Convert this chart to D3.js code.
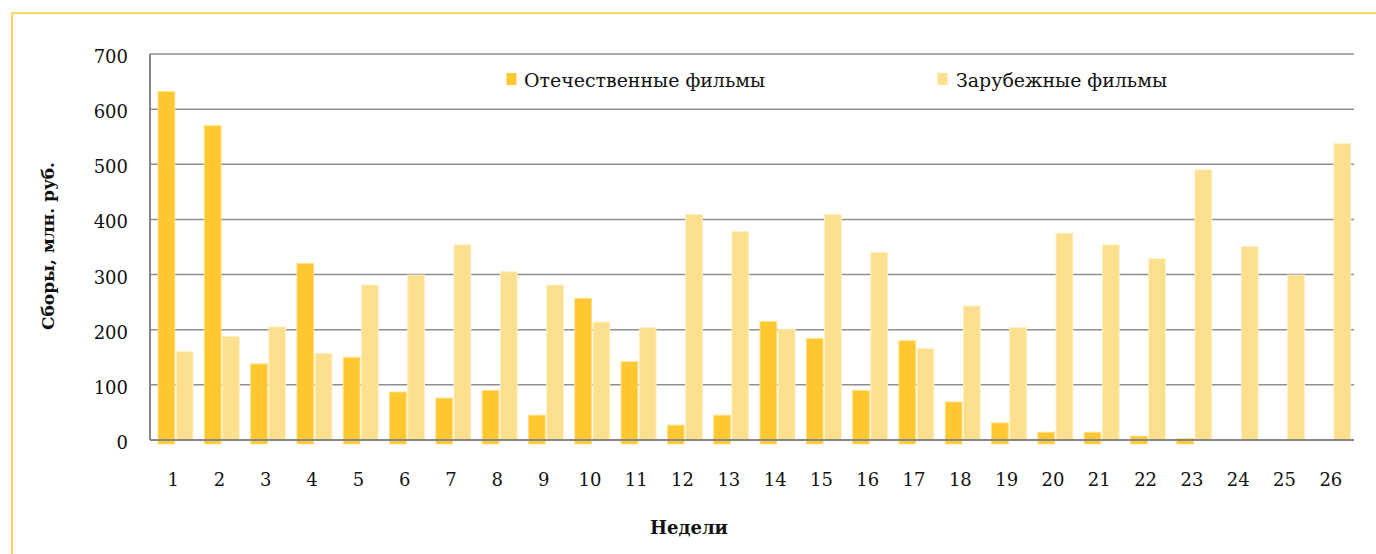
<!DOCTYPE html>
<html>
<head>
<meta charset="utf-8">
<script src="https://cdn.jsdelivr.net/npm/d3@7/dist/d3.min.js"></script>
<style>
  html, body { margin: 0; padding: 0; background: #fff; }
  svg { display: block; }
</style>
</head>
<body>
<svg id="chart" width="1376" height="554"></svg>
<script>
// ---- data ----
const weeks = ["1","2","3","4","5","6","7","8","9","10","11","12","13","14","15","16","17","18","19","20","21","22","23","24","25","26"];
const seriesNames = ["Отечественные фильмы", "Зарубежные фильмы"];
const domestic = [632, 570, 138, 320, 150, 87, 76, 90, 45, 257, 142, 27, 45, 215, 184, 90, 180, 69, 31, 14, 14, 7, 3, null, null, null];
const foreign  = [160, 188, 205, 157, 281, 299, 354, 305, 281, 214, 204, 409, 378, 201, 409, 340, 166, 243, 204, 375, 354, 329, 490, 351, 299, 538];
const yTicks = [0, 100, 200, 300, 400, 500, 600, 700];
const yTitle = "Сборы, млн. руб.";
const xTitle = "Недели";

// ---- layout ----
const svg = d3.select("#chart");
const plotL = 150, plotR = 1354, plotT = 54, plotB = 440;
const fills = ["#FFC830", "#FDE08D"];
const strokes = ["#FFE18A", "#FFF0C4"];
const serif = "'DejaVu Serif', 'Liberation Serif', serif";

// frame (top and left edges visible)
svg.append("line").attr("x1", 12).attr("x2", 1376).attr("y1", 13).attr("y2", 13)
  .attr("stroke", "#FFC832").attr("stroke-width", 1.6);
svg.append("line").attr("x1", 12).attr("x2", 12).attr("y1", 13).attr("y2", 554)
  .attr("stroke", "#FFC832").attr("stroke-width", 1.6);

const x0 = d3.scaleBand().domain(weeks).range([plotL, plotR]).padding(0);
const x1 = d3.scaleBand().domain([0, 1]).range([8, 43]).paddingInner(0.08);
const y = d3.scaleLinear().domain([0, 700]).range([plotB, plotT]);

// gridlines
svg.append("g").selectAll("line").data(yTicks.filter(d => d > 0)).join("line")
  .attr("x1", plotL).attr("x2", plotR)
  .attr("y1", d => y(d)).attr("y2", d => y(d))
  .attr("stroke", "#8F8F8F").attr("stroke-width", 1.5);

// bars
const series = [domestic, foreign];
series.forEach((vals, si) => {
  svg.append("g").selectAll("rect")
    .data(weeks.map((w, i) => ({ w, v: vals[i] })).filter(d => d.v != null && d.v > 0))
    .join("rect")
    .attr("x", d => x0(d.w) + x1(si))
    .attr("width", x1.bandwidth())
    .attr("y", d => y(d.v))
    .attr("height", d => y(0) - y(d.v) + (si === 0 ? 4 : 0))
    .attr("fill", fills[si])
    .attr("stroke", strokes[si])
    .attr("stroke-width", 1);
});

// axes lines
svg.append("line").attr("x1", plotL).attr("x2", plotR).attr("y1", y(0)).attr("y2", y(0))
  .attr("stroke", "#868686").attr("stroke-width", 2);
svg.append("line").attr("x1", plotL).attr("x2", plotL).attr("y1", y(700)).attr("y2", y(0))
  .attr("stroke", "#868686").attr("stroke-width", 2);

// y tick labels
svg.append("g").selectAll("text").data(yTicks).join("text")
  .attr("x", 128).attr("y", d => y(d) + 9)
  .attr("text-anchor", "end")
  .attr("font-family", serif).attr("font-size", 18).attr("fill", "#111")
  .text(d => d);

// x tick labels
svg.append("g").selectAll("text").data(weeks).join("text")
  .attr("x", d => x0(d) + x0.bandwidth() / 2).attr("y", 486)
  .attr("text-anchor", "middle")
  .attr("font-family", serif).attr("font-size", 18).attr("fill", "#111")
  .text(d => d);

// axis titles
svg.append("text")
  .attr("transform", "translate(54,246) rotate(-90)")
  .attr("text-anchor", "middle")
  .attr("font-family", serif).attr("font-weight", "bold").attr("font-size", 17).attr("fill", "#111")
  .text(yTitle);
svg.append("text")
  .attr("x", 689).attr("y", 534)
  .attr("text-anchor", "middle")
  .attr("font-family", serif).attr("font-weight", "bold").attr("font-size", 18).attr("fill", "#111")
  .text(xTitle);

// legend
const legendItems = [
  { sq: 506.5, tx: 524, len: 241 },
  { sq: 937.5, tx: 956, len: 211 }
];
legendItems.forEach((it, i) => {
  svg.append("rect").attr("x", it.sq).attr("y", 73).attr("width", 10).attr("height", 12)
    .attr("fill", fills[i]);
  svg.append("text").attr("x", it.tx).attr("y", 87)
    .attr("font-family", serif).attr("font-size", 19).attr("fill", "#111")
    .attr("textLength", it.len).attr("lengthAdjust", "spacingAndGlyphs")
    .text(seriesNames[i]);
});
</script>
</body>
</html>
